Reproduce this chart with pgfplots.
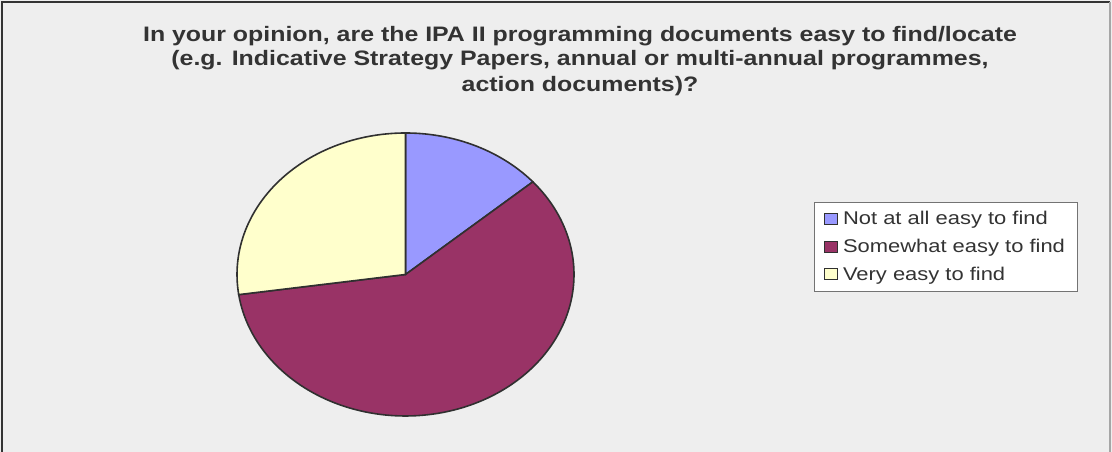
\documentclass[border=0pt]{standalone}
\usepackage{pgfplots}
\pgfplotsset{compat=1.18}
\usepackage{pgfplotstable}
\usepackage{fontspec}
\setmainfont{Liberation Sans}
\newfontfamily\titlefont[FakeStretch=1.19]{Liberation Sans}
\newfontfamily\legendfont[FakeStretch=1.19]{Liberation Sans}
\definecolor{bgcol}{HTML}{EEEEEE}
\definecolor{txtcol}{HTML}{333333}
\definecolor{slicea}{HTML}{9999FF}
\definecolor{sliceb}{HTML}{993366}
\definecolor{slicec}{HTML}{FFFFCC}
\definecolor{edgecol}{HTML}{303030}

% answers per category (share of respondents)
\pgfplotstableread{
share
3
13
6
}\piedata
\pgfplotstablegetelem{0}{share}\of\piedata\let\va\pgfplotsretval
\pgfplotstablegetelem{1}{share}\of\piedata\let\vb\pgfplotsretval
\pgfplotstablegetelem{2}{share}\of\piedata\let\vc\pgfplotsretval
\pgfmathsetmacro{\tot}{\va+\vb+\vc}
% slices run clockwise from 12 o'clock
\pgfmathsetmacro{\aa}{90}
\pgfmathsetmacro{\ab}{90-360*\va/\tot}
\pgfmathsetmacro{\ac}{90-360*(\va+\vb)/\tot}
\pgfmathsetmacro{\ad}{-270}

\begin{document}
\begin{tikzpicture}[x=1bp,y=1bp]
  \useasboundingbox (0,0) rectangle (1112,452);
  \fill[bgcol] (0,0) rectangle (1112,452);
  \draw[black!80, line width=2.5bp] (2,0) -- (2,450) -- (1110,450);
  \draw[black!35, line width=1.5bp] (1110,450) -- (1110,0);
  \begin{scope}[every node/.style={font=\titlefont\bfseries\fontsize{21}{25}\selectfont, text=txtcol, anchor=base}]
    \node at (580,410.3) {In your opinion, are the IPA II programming documents easy to find/locate};
    \node at (580,386) {(e.g. Indicative Strategy Papers, annual or multi-annual programmes,};
    \node at (580,360.5) {action documents)?};
  \end{scope}
  \begin{axis}[
      at={(405.5bp,177.5bp)}, anchor=center,
      scale only axis, width=337bp, height=283bp,
      xmin=-1, xmax=1, ymin=-1, ymax=1,
      hide axis, clip=false,
      legend style={at={(1.712,0.756)}, anchor=north west,
        draw=black!55, fill=white, font=\legendfont\fontsize{18.5}{20}\selectfont,
        text=txtcol, inner xsep=10bp, inner ysep=7bp, row sep=9bp,
        /tikz/every odd column/.append style={column sep=3bp}},
      legend cell align=left,
      legend image code/.code={
        \draw[#1, line width=0.9bp] (0bp,-5.5bp) rectangle (13bp,5.5bp);},
    ]
    \addplot[fill=slicea, draw=edgecol, line width=1.6bp, domain=\ab:\aa, samples=60, variable=\t]
      ({cos(\t)}, {sin(\t)}) -- (0,0) -- cycle;
    \addlegendentry{Not at all easy to find}
    \addplot[fill=sliceb, draw=edgecol, line width=1.6bp, domain=\ac:\ab, samples=120, variable=\t]
      ({cos(\t)}, {sin(\t)}) -- (0,0) -- cycle;
    \addlegendentry{Somewhat easy to find}
    \addplot[fill=slicec, draw=edgecol, line width=1.6bp, domain=\ad:\ac, samples=60, variable=\t]
      ({cos(\t)}, {sin(\t)}) -- (0,0) -- cycle;
    \addlegendentry{Very easy to find}
  \end{axis}
\end{tikzpicture}
\end{document}
